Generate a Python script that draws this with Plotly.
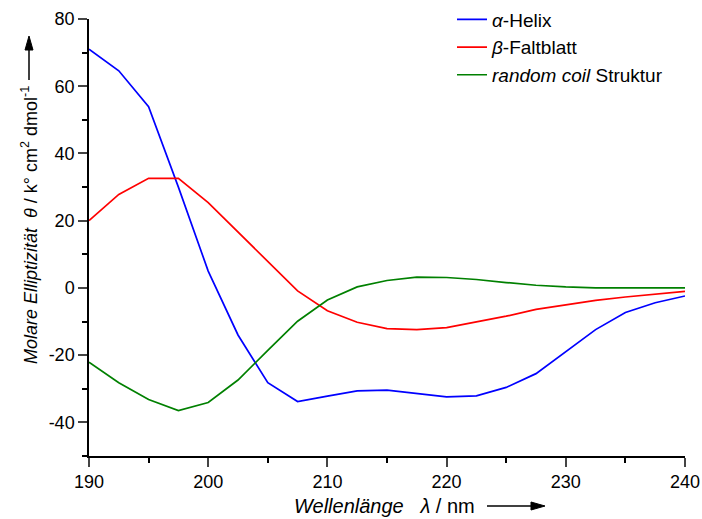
import plotly.graph_objects as go

wavelength = [190, 192.5, 195, 197.5, 200, 202.5, 205, 207.5, 210, 212.5, 215,
              217.5, 220, 222.5, 225, 227.5, 230, 232.5, 235, 237.5, 240]
helix = [71.0, 64.6, 53.9, 30.0, 5.0, -14.0, -28.2, -33.8, -32.2, -30.6, -30.4,
         -31.4, -32.4, -32.1, -29.6, -25.5, -19.0, -12.4, -7.3, -4.4, -2.4]
sheet = [20.0, 27.8, 32.6, 32.6, 25.4, 16.6, 7.8, -0.9, -6.8, -10.2, -12.1,
         -12.4, -11.8, -10.1, -8.4, -6.4, -5.1, -3.7, -2.7, -1.8, -1.0]
coil = [-22.1, -28.2, -33.2, -36.5, -34.1, -27.4, -18.6, -9.9, -3.6, 0.3, 2.2,
        3.2, 3.1, 2.5, 1.6, 0.8, 0.3, 0.0, 0.0, 0.0, 0.0]

y_tickvals = [-40, -20, 0, 20, 40, 60, 80]
y_ticktext = ["-40", "-20", "0", "20", "40", "60", "80"]

names = ["<i>α</i>-Helix", "<i>β</i>-Faltblatt", "<i>random coil</i> Struktur"]
colors = ["#0000FF", "#FF0000", "#008000"]

FONT = "Liberation Sans, Arial, sans-serif"

fig = go.Figure()
for name, vals, col in zip(names, [helix, sheet, coil], colors):
    fig.add_trace(go.Scatter(x=wavelength, y=vals, mode="lines", name=name,
                             line=dict(color=col, width=1.7)))

W, H = 702, 519
L, R, T, B = 89, 17, 19, 63
pw, ph = W - L - R, H - T - B

def px(x):
    return (x - L) / pw

def py(y):
    return (H - B - y) / ph

fig.update_layout(
    width=W, height=H,
    margin=dict(l=L, r=R, t=T, b=B, autoexpand=False),
    paper_bgcolor="white", plot_bgcolor="white",
    font=dict(family=FONT, size=18, color="black"),
    showlegend=True,
    legend=dict(x=px(452), y=py(0.5), xanchor="left", yanchor="top",
                bgcolor="rgba(0,0,0,0)", font=dict(size=19), tracegroupgap=0),
    xaxis=dict(range=[190, 240], dtick=10, tick0=190, ticks="outside", ticklen=9,
               tickwidth=1.5, showline=True, linecolor="black", linewidth=1.5,
               showgrid=False, zeroline=False, mirror=False,
               minor=dict(dtick=5, ticks="outside", ticklen=5, tickwidth=1.5,
                          tickcolor="black", showgrid=False)),
    yaxis=dict(range=[-50, 80], tickmode="array", tickvals=y_tickvals,
               ticktext=y_ticktext, ticks="outside", ticklen=9,
               tickwidth=1.5, showline=True, linecolor="black", linewidth=1.5,
               showgrid=False, zeroline=False, mirror=False,
               minor=dict(dtick=10, tick0=0, ticks="outside", ticklen=5, tickwidth=1.5,
                          tickcolor="black", showgrid=False)),
)

# axis titles as annotations
fig.add_annotation(xref="paper", yref="paper", x=px(384), y=py(506),
                   text="<i>Wellenlänge</i>\u00a0\u00a0\u00a0<i>λ</i> / nm",
                   showarrow=False, xanchor="center", yanchor="middle",
                   font=dict(size=20))
fig.add_annotation(xref="paper", yref="paper", x=px(29), y=py(225),
                   text="<i>Molare Elliptizität</i>\u00a0\u00a0<i>θ</i> / k° cm<sup>2</sup> dmol<sup>-1</sup>",
                   showarrow=False, textangle=-90, xanchor="center", yanchor="middle",
                   font=dict(size=18))

# decorative arrows next to the axis titles
def seg(x0, y0, x1, y1):
    fig.add_shape(type="line", xref="paper", yref="paper",
                  x0=px(x0), y0=py(y0), x1=px(x1), y1=py(y1),
                  line=dict(color="black", width=1.5))

def tri(pts):
    path = "M " + " L ".join(f"{px(a)},{py(b)}" for a, b in pts) + " Z"
    fig.add_shape(type="path", xref="paper", yref="paper", path=path,
                  fillcolor="black", line=dict(color="black", width=1))

seg(487, 506, 533, 506)
tri([(531, 502), (545, 506), (531, 510)])
seg(29, 80, 29, 48)
tri([(25, 50), (29, 36), (33, 50)])

fig.write_html("out.html")
